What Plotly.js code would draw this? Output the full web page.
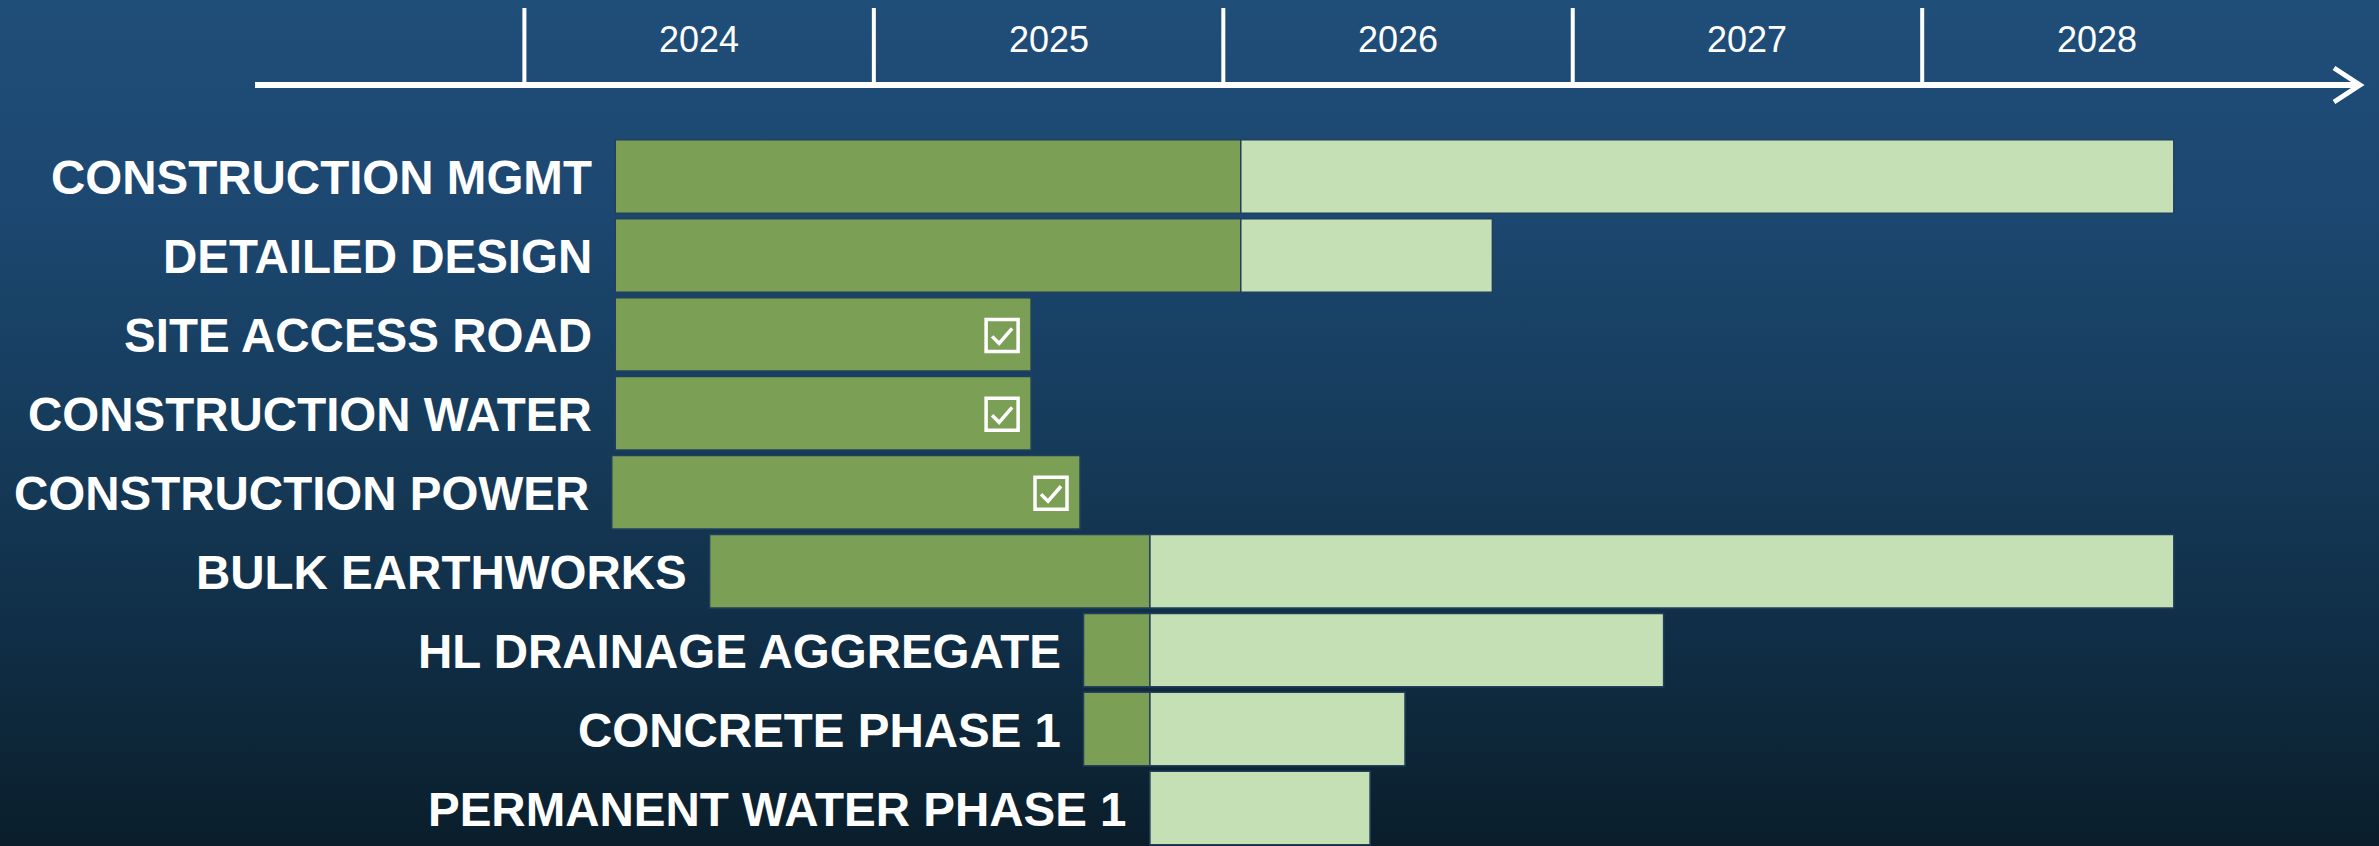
<!DOCTYPE html>
<html>
<head>
<meta charset="utf-8">
<script src="https://cdn.plot.ly/plotly-3.0.1.min.js"></script>
<style>
  html, body { margin: 0; padding: 0; }
  body {
    width: 2379px; height: 846px; overflow: hidden;
    background: linear-gradient(to bottom, #1f4e79 0%, #1c4770 25%, #163c5c 50%, #102e46 75%, #0a1e2b 100%);
  }
  #chart { width: 2379px; height: 846px; }
</style>
</head>
<body>
<div id="chart"></div>
<script>
// ---- data (years as fractional calendar years) ----
const categories = [
  "CONSTRUCTION MGMT",
  "DETAILED DESIGN",
  "SITE ACCESS ROAD",
  "CONSTRUCTION WATER",
  "CONSTRUCTION POWER",
  "BULK EARTHWORKS",
  "HL DRAINAGE AGGREGATE",
  "CONCRETE PHASE 1",
  "PERMANENT WATER PHASE 1"
];
const doneStart = [2024.26, 2024.26, 2024.26, 2024.26, 2024.25, 2024.53, 2025.60, 2025.60, null];
const doneEnd   = [2026.05, 2026.05, 2025.45, 2025.45, 2025.59, 2025.79, 2025.79, 2025.79, null];
const planStart = [2026.05, 2026.05, null, null, null, 2025.79, 2025.79, 2025.79, 2025.79];
const planEnd   = [2028.72, 2026.77, null, null, null, 2028.72, 2027.26, 2026.52, 2026.42];
const completed = [false, false, true, true, true, false, false, false, false];
const years = [2024, 2025, 2026, 2027, 2028];

// ---- layout helpers ----
const W = 2379, H = 846;
const px = v => v / W;
const py = v => 1 - v / H;
const rows = categories.map((c, i) => i);
const dur = (s, e) => s.map((v, i) => (v == null || e[i] == null) ? null : e[i] - v);

const barLine = { color: "#22405c", width: 1.5 };

const traces = [
  {
    type: "bar", orientation: "h", name: "Complete",
    y: rows, base: doneStart, x: dur(doneStart, doneEnd),
    width: 0.93,
    marker: { color: "#7b9f55", line: barLine },
    hoverinfo: "skip"
  },
  {
    type: "bar", orientation: "h", name: "Remaining",
    y: rows, base: planStart, x: dur(planStart, planEnd),
    width: 0.93,
    marker: { color: "#c5e0b4", line: barLine },
    hoverinfo: "skip"
  }
];

const shapes = [];
const annotations = [];

// timeline axis line with arrow
shapes.push({ type: "line", xref: "paper", yref: "paper",
  x0: px(255), x1: px(2360), y0: py(85), y1: py(85),
  line: { color: "#ffffff", width: 6 } });
shapes.push({ type: "path", xref: "paper", yref: "paper",
  path: `M${px(2334)},${py(68)} L${px(2360)},${py(85)} L${px(2334)},${py(102)}`,
  line: { color: "#ffffff", width: 5 } });

// year tick lines and labels
years.forEach(y => {
  shapes.push({ type: "line", xref: "x", yref: "paper",
    x0: y, x1: y, y0: py(85), y1: py(8),
    line: { color: "#ffffff", width: 4 } });
  annotations.push({ xref: "x", yref: "paper", x: y + 0.5, y: py(40),
    text: String(y), showarrow: false, xanchor: "center", yanchor: "middle",
    font: { family: "Liberation Sans, Arial, sans-serif", size: 36, color: "#ffffff" } });
});

// row labels, right-aligned before each bar's start
categories.forEach((c, i) => {
  const start = doneStart[i] != null ? doneStart[i] : planStart[i];
  annotations.push({ xref: "x", yref: "y", x: start, y: i,
    text: "<b>" + c + "</b>", showarrow: false, xanchor: "right", yanchor: "middle",
    xshift: -21, yshift: -1,
    font: { family: "Liberation Sans, Arial, sans-serif", size: 47.5, color: "#ffffff" } });
});

// checkboxes on completed items
categories.forEach((c, i) => {
  if (!completed[i]) return;
  const end = doneEnd[i];
  shapes.push({ type: "rect", xref: "x", yref: "y",
    xsizemode: "pixel", xanchor: end, ysizemode: "pixel", yanchor: i,
    x0: -45, x1: -13, y0: -17, y1: 15,
    line: { color: "#ffffff", width: 3.5 } });
  shapes.push({ type: "path", xref: "x", yref: "y",
    xsizemode: "pixel", xanchor: end, ysizemode: "pixel", yanchor: i,
    path: "M-39,-2 L-32,-9 L-19,6",
    line: { color: "#ffffff", width: 3.5 } });
});

// x range chosen so 2026 sits at ~1223px with ~349.45px per year
const slope = 349.45, x2026 = 1223.3;
const xr = [2026 - x2026 / slope, 2026 + (W - x2026) / slope];
const rowPitch = 78.94, row0 = 176.5;
const yr = [(H - row0) / rowPitch, -row0 / rowPitch];

const layout = {
  width: W, height: H,
  margin: { l: 0, r: 0, t: 0, b: 0, pad: 0 },
  paper_bgcolor: "rgba(0,0,0,0)",
  plot_bgcolor: "rgba(0,0,0,0)",
  barmode: "overlay",
  showlegend: false,
  xaxis: { range: xr, visible: false, fixedrange: true },
  yaxis: { range: yr, visible: false, fixedrange: true },
  shapes: shapes,
  annotations: annotations
};

Plotly.newPlot("chart", traces, layout, { displayModeBar: false, staticPlot: true });
</script>
</body>
</html>
